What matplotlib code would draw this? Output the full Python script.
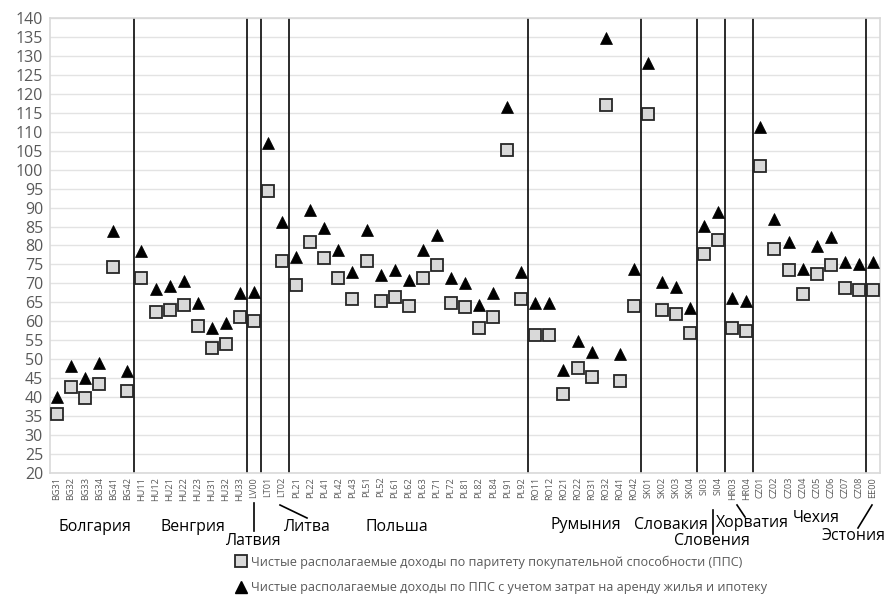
import matplotlib
matplotlib.use("Agg")
import matplotlib.pyplot as plt
from matplotlib.lines import Line2D
import matplotlib.transforms as mtransforms

regions = ["BG31", "BG32", "BG33", "BG34", "BG41", "BG42",
           "HU11", "HU12", "HU21", "HU22", "HU23", "HU31", "HU32", "HU33",
           "LV00", "LT01", "LT02",
           "PL21", "PL22", "PL41", "PL42", "PL43", "PL51", "PL52", "PL61", "PL62",
           "PL63", "PL71", "PL72", "PL81", "PL82", "PL84", "PL91", "PL92",
           "RO11", "RO12", "RO21", "RO22", "RO31", "RO32", "RO41", "RO42",
           "SK01", "SK02", "SK03", "SK04", "SI03", "SI04", "HR03", "HR04",
           "CZ01", "CZ02", "CZ03", "CZ04", "CZ05", "CZ06", "CZ07", "CZ08", "EE00"]

income_pps = [35.5, 42.7, 39.8, 43.4, 74.2, 41.6,
              71.4, 62.4, 62.9, 64.2, 58.7, 52.9, 54.0, 61.1,
              60.1, 94.5, 76.0,
              69.6, 80.8, 76.7, 71.3, 66.0, 76.0, 65.4, 66.5, 64.1,
              71.3, 74.9, 64.7, 63.7, 58.2, 61.1, 105.2, 66.0,
              56.4, 56.4, 40.8, 47.6, 45.2, 117.1, 44.3, 64.1,
              114.8, 62.9, 61.8, 57.0, 77.8, 81.5, 58.2, 57.5,
              101.1, 79.1, 73.6, 67.1, 72.5, 74.9, 68.8, 68.3, 68.3]

income_housing = [40.0, 48.2, 44.9, 48.9, 83.8, 46.9,
                  78.6, 68.6, 69.3, 70.6, 64.7, 58.2, 59.5, 67.5,
                  67.7, 107.2, 86.3,
                  76.9, 89.4, 84.7, 78.8, 73.0, 84.1, 72.3, 73.5, 70.9,
                  78.8, 82.8, 71.4, 70.2, 64.3, 67.5, 116.5, 73.0,
                  64.9, 64.9, 47.1, 54.8, 52.0, 134.9, 51.3, 73.8,
                  128.3, 70.4, 69.0, 63.6, 85.2, 88.9, 66.1, 65.4,
                  111.2, 87.0, 81.0, 73.8, 79.9, 82.3, 75.7, 75.1, 75.6]

countries = ["Болгария", "Венгрия", "Латвия", "Литва", "Польша", "Румыния",
             "Словакия", "Словения", "Хорватия", "Чехия", "Эстония"]
country_sizes = [6, 8, 1, 2, 17, 8, 4, 2, 2, 8, 1]

legend_labels = ["Чистые располагаемые доходы по паритету покупательной способности (ППС)",
                 "Чистые располагаемые доходы по ППС с учетом затрат на аренду жилья и ипотеку"]

y_ticks = list(range(20, 141, 5))

TEXT_FONT = ["Open Sans", "DejaVu Sans"]
label_fs, legend_fs = 11.4, 9.1
plt.rcParams["font.family"] = ["Open Sans", "DejaVu Sans"]

W, H = 886, 598
fig = plt.figure(figsize=(W / 100, H / 100), dpi=100)
L, R, T, B = 50, 880, 18.3, 472.7
ax = fig.add_axes([L / W, 1 - B / H, (R - L) / W, (B - T) / H])

x = list(range(len(regions)))
ax.set_xlim(-0.5, len(regions) - 0.5)
ax.set_ylim(20, 140)
ax.set_yticks(y_ticks)
ax.set_yticklabels([str(v) for v in y_ticks], fontsize=11.5, color="#595959")
ax.set_xticks(x)
ax.set_xticklabels(regions, rotation=90, fontsize=6.6, color="#595959")
ax.tick_params(axis="both", length=0, pad=3)
ax.tick_params(axis="y", pad=5)
ax.grid(axis="y", color="#e3e3e3", linewidth=1.0, zorder=0)
ax.set_axisbelow(True)
for s in ax.spines.values():
    s.set_color("#d9d9d9")
    s.set_linewidth(1.2)

bounds = []
acc = 0
for n in country_sizes[:-1]:
    acc += n
    bounds.append(acc - 0.5)
for b in bounds:
    ax.axvline(b, color="#1a1a1a", linewidth=1.3, zorder=2)

ax.plot(x, income_pps, linestyle="none", marker="s", markersize=8.2,
        markerfacecolor="#d9d9d9", markeredgecolor="#262626",
        markeredgewidth=1.3, zorder=3, clip_on=False)
ax.plot(x, income_housing, linestyle="none", marker="^", markersize=8.6,
        markerfacecolor="black", markeredgecolor="black",
        markeredgewidth=0.5, zorder=3, clip_on=False)

blend = mtransforms.blended_transform_factory(ax.transData, ax.transAxes)
ah = B - T


def yfrac(py):
    return (B - py) / ah


def xdat(px):
    return (px - L) / ((R - L) / len(regions)) - 0.5


label_pos = {
    "Болгария": (95, 527), "Венгрия": (193, 527), "Латвия": (253, 541),
    "Литва": (306, 527), "Польша": (397, 527), "Румыния": (586, 525),
    "Словакия": (671, 525), "Словения": (712, 541), "Хорватия": (752, 523),
    "Чехия": (816, 518), "Эстония": (853, 536),
}
for name in countries:
    px, py = label_pos[name]
    ax.text(xdat(px), yfrac(py), name, transform=blend, ha="center", va="center",
            fontsize=label_fs, color="black", clip_on=False, family=TEXT_FONT)

leaders = [((254.3, 503), (254.3, 531)), ((280, 505), (307, 518)),
           ((713, 510), (713, 534)), ((737, 505), (745, 517)),
           ((872, 505), (858, 528))]
for (x0, y0), (x1, y1) in leaders:
    ax.add_line(Line2D([xdat(x0), xdat(x1)], [yfrac(y0), yfrac(y1)], transform=blend,
                       color="black", linewidth=1.2, clip_on=False))

h1 = Line2D([], [], linestyle="none", marker="s", markersize=8.2,
            markerfacecolor="#d9d9d9", markeredgecolor="#262626", markeredgewidth=1.3)
h2 = Line2D([], [], linestyle="none", marker="^", markersize=8.6,
            markerfacecolor="black", markeredgecolor="black")
leg = fig.legend([h1, h2], legend_labels, loc="center left",
                 bbox_to_anchor=(228 / W, 1 - 575 / H), frameon=False,
                 prop={"family": TEXT_FONT, "size": legend_fs},
                 handlelength=1.0, handletextpad=0.3,
                 labelspacing=1.0, borderpad=0)
for t in leg.get_texts():
    t.set_color("#595959")

fig.savefig("out.png", dpi=100)
